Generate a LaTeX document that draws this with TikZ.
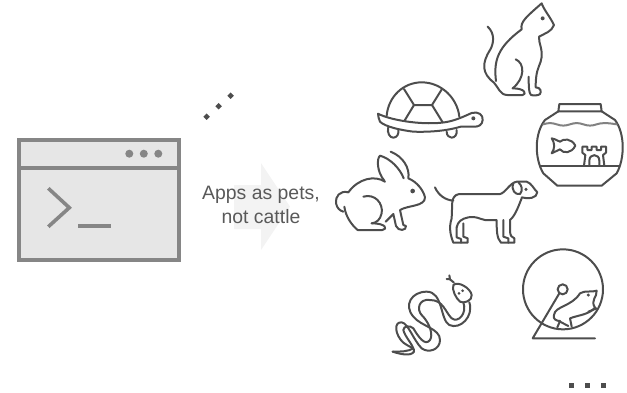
\documentclass[tikz,border=0pt]{standalone}
\usepackage{fontspec}
\setmainfont{Liberation Sans}
\usetikzlibrary{calc}
\definecolor{framegray}{HTML}{868686}
\definecolor{screengray}{HTML}{E6E6E6}
\definecolor{arrowgray}{HTML}{F3F3F3}
\definecolor{petgray}{HTML}{4D4D4D}
\definecolor{textgray}{HTML}{595959}

\begin{document}
\begin{tikzpicture}[
	x=1pt, y=-1pt,
	window/.style={rectangle, draw=framegray, fill=screengray, line width=4pt, inner sep=0pt},
	winline/.style={draw=framegray, line width=3.6pt},
	windot/.style={circle, fill=framegray, minimum size=8pt, inner sep=0pt},
	pet/.style={draw=petgray, line width=2pt, line cap=round, line join=round},
	petdot/.style={fill=petgray},
	crop/.style={x=0.33333pt, y=-0.33333pt},
	moredot/.style={fill=petgray},
]
	\useasboundingbox (0, 0) rectangle (627, 392);

	% Arrow behind the label
	\fill[arrowgray] (234, 185) -- (261, 185) -- (261, 163) -- (290, 206.5) -- (261, 250) -- (261, 229) -- (234, 229) -- cycle;
	\node[font=\fontsize{19.4}{24}\selectfont, text=textgray, align=center, inner sep=0pt] (label) at (261, 205) {Apps as pets,\\not cattle};

	% Terminal window
	\node[window, minimum width=159.4pt, minimum height=119.4pt] (terminal) at (99, 200) {};
	\coordinate (barleft) at (19.3, 168);
	\coordinate (barright) at (178.7, 168);
	\draw[winline] (barleft) -- (barright);
	\foreach \i/\px in {1/129.3, 2/143.8, 3/158.3} {
		\node[windot] (windot\i) at (\px, 153.7) {};
	}
	\draw[winline] (48.3, 188.3) -- (69.3, 207.7) -- (48.3, 226.7);
	\draw[winline] (78, 225.7) -- (111, 225.7);

	% Dots towards the top, dots at the bottom
	\foreach \px/\py in {206.7/116.7, 218.7/106.2, 230.7/95.7} {
		\fill[moredot, rotate around={45:(\px, \py)}] (\px - 2.3, \py - 2.3) rectangle (\px + 2.3, \py + 2.3);
	}
	\foreach \px in {571.3, 587.3, 603.3} {
		\fill[moredot] (\px - 2.5, 383.2) rectangle (\px + 2.5, 388.2);
	}

	% Turtle
	\begin{scope}[shift={(370, 75)}, crop]
		\draw[pet] (50, 122) .. controls (55, 65) and (100, 22) .. (155, 22) .. controls (215, 22) and (262, 70) .. (268, 125);
		\draw[pet] (102, 42) -- (132, 90) -- (186, 90) -- (216, 42);
		\draw[pet] (132, 90) -- (103, 138);
		\draw[pet] (186, 90) -- (218, 142);
		\draw[pet] (24, 116) .. controls (60, 135) and (150, 150) .. (215, 143) .. controls (250, 140) and (280, 125) .. (305, 114)
			.. controls (325, 108) and (340, 120) .. (338, 135) .. controls (337, 150) and (325, 155) .. (315, 155)
			-- (272, 155) .. controls (240, 165) and (190, 172) .. (130, 170) .. controls (90, 165) and (45, 155) .. (30, 140) .. controls (26, 132) and (25, 125) .. (24, 116);
		\draw[pet] (55, 155) .. controls (50, 175) and (60, 188) .. (70, 188) .. controls (82, 188) and (87, 175) .. (85, 165);
		\draw[pet] (230, 170) .. controls (230, 182) and (238, 188) .. (245, 188) .. controls (255, 188) and (262, 178) .. (260, 165);
		\fill[petdot] (310, 130) circle (6);
	\end{scope}

	% Cat
	\begin{scope}[shift={(470, 0)}, crop]
		\draw[pet] (53, 80) .. controls (75, 100) and (72, 130) .. (60, 150) .. controls (35, 190) and (35, 220) .. (72, 248)
			.. controls (85, 262) and (90, 285) .. (112, 285) -- (158, 285) .. controls (170, 283) and (167, 265) .. (128, 265);
		\draw[pet] (78, 243) .. controls (70, 180) and (85, 140) .. (155, 88) .. controls (150, 65) and (170, 50) .. (215, 10)
			.. controls (222, 30) and (240, 50) .. (252, 75) .. controls (245, 95) and (225, 100) .. (207, 110)
			.. controls (205, 130) and (222, 150) .. (212, 185) .. controls (205, 205) and (197, 215) .. (197, 262)
			.. controls (212, 262) and (215, 275) .. (210, 282) .. controls (205, 287) and (190, 287) .. (183, 285) .. controls (176, 280) and (176, 250) .. (176, 230);
		\draw[pet] (137, 178) .. controls (165, 190) and (165, 235) .. (128, 265);
		\fill[petdot] (218, 55) circle (6);
	\end{scope}

	% Fish bowl
	\begin{scope}[shift={(500, 90)}, crop]
		\draw[pet] (175, 64) -- (178, 42) -- (302, 42) -- (305, 64) -- cycle;
		\draw[pet] (175, 64) -- (135, 90) .. controls (103, 130) and (103, 205) .. (130, 250) -- (172, 287) -- (305, 287) -- (350, 250)
			.. controls (375, 205) and (375, 130) .. (345, 90) -- (305, 64);
		\draw[pet, petgray!70] (130, 103) .. controls (145, 98) and (155, 98) .. (170, 103) .. controls (185, 108) and (195, 108) .. (210, 103)
			.. controls (225, 98) and (235, 98) .. (250, 103) .. controls (265, 108) and (275, 108) .. (290, 103) .. controls (305, 98) and (320, 98) .. (350, 103);
		\draw[pet] (122, 227) -- (357, 227);
		\draw[pet] (155, 145) .. controls (170, 148) and (175, 155) .. (180, 155) .. controls (190, 145) and (215, 145) .. (226, 167)
			.. controls (215, 190) and (190, 192) .. (180, 178) .. controls (172, 180) and (165, 187) .. (155, 190) .. controls (165, 175) and (165, 160) .. (155, 145) -- cycle;
		\draw[pet] (252, 227) -- (256, 195) -- (247, 188) -- (247, 170) -- (262, 170) -- (262, 180) -- (275, 180) -- (275, 170) -- (290, 170)
			-- (290, 180) -- (303, 180) -- (303, 170) -- (318, 170) -- (318, 188) -- (309, 195) -- (313, 227);
		\draw[pet] (268, 227) -- (268, 212) .. controls (268, 190) and (298, 190) .. (298, 212) -- (298, 227);
	\end{scope}

	% Rabbit and dog
	\begin{scope}[shift={(325, 140)}, crop]
		\draw[pet] (180, 125) .. controls (150, 105) and (100, 115) .. (70, 157) .. controls (45, 150) and (30, 170) .. (33, 190) .. controls (36, 205) and (45, 212) .. (55, 215);
		\draw[pet] (58, 200) .. controls (62, 230) and (80, 255) .. (98, 270) -- (172, 270) .. controls (188, 268) and (185, 250) .. (140, 250);
		\draw[pet] (115, 170) .. controls (150, 160) and (175, 190) .. (170, 220) .. controls (165, 240) and (155, 248) .. (140, 250);
		\draw[pet] (182, 245) -- (205, 222) -- (213, 258) .. controls (220, 275) and (245, 272) .. (243, 258) -- (235, 255) -- (225, 210)
			.. controls (250, 195) and (300, 200) .. (300, 172) .. controls (295, 150) and (275, 125) .. (250, 115) .. controls (255, 85) and (235, 50) .. (197, 35);
		\draw[pet] (178, 122) .. controls (155, 95) and (155, 55) .. (165, 47) .. controls (195, 55) and (225, 85) .. (236, 115);
		\fill[petdot] (263, 153) circle (7);

		\draw[pet] (330, 142) .. controls (340, 165) and (360, 180) .. (385, 182);
		\draw[pet] (382, 182) .. controls (388, 165) and (395, 162) .. (410, 162) -- (525, 162) .. controls (540, 160) and (555, 128) .. (575, 125) -- (605, 125)
			.. controls (620, 130) and (625, 145) .. (637, 157) .. controls (635, 175) and (610, 178) .. (590, 172);
		\draw[pet] (565, 130) .. controls (558, 150) and (570, 165) .. (585, 162) .. controls (595, 150) and (590, 135) .. (580, 127);
		\fill[petdot] (603, 148) circle (5);
		\draw[pet] (590, 175) .. controls (580, 200) and (570, 228) .. (555, 240) -- (555, 270) .. controls (555, 288) and (560, 292) .. (568, 295) -- (568, 308) -- (528, 308)
			.. controls (515, 295) and (515, 270) .. (515, 240) -- (480, 240) .. controls (460, 236) and (455, 228) .. (430, 232) .. controls (410, 236) and (398, 245) .. (395, 262);
		\draw[pet] (382, 182) -- (380, 235) .. controls (370, 265) and (378, 290) .. (385, 308) -- (428, 308) -- (428, 295) -- (415, 290) -- (415, 250);
		\draw[pet] (395, 262) -- (395, 292) -- (408, 297) -- (408, 308);
		\draw[pet] (535, 240) -- (535, 290) -- (550, 295) -- (550, 308);
	\end{scope}

	% Snake and hamster wheel
	\begin{scope}[shift={(380, 240)}, crop]
		\draw[pet] (220, 135) .. controls (235, 122) and (272, 145) .. (275, 165) .. controls (278, 182) and (250, 192) .. (240, 185) .. controls (228, 175) and (215, 150) .. (220, 135) -- cycle;
		\draw[pet] (222, 128) -- (210, 118) -- (200, 117);
		\draw[pet] (210, 118) -- (208, 106);
		\fill[petdot] (248, 152) circle (4.5);
		\fill[petdot] (237, 160) circle (4.5);
		\draw[pet] (268, 187) .. controls (282, 230) and (240, 270) .. (208, 255) .. controls (180, 240) and (190, 155) .. (140, 155)
			.. controls (95, 155) and (70, 195) .. (100, 230) .. controls (125, 260) and (180, 265) .. (180, 300) .. controls (180, 330) and (145, 340) .. (125, 325)
			.. controls (100, 300) and (85, 250) .. (65, 247) .. controls (40, 245) and (45, 285) .. (70, 308) .. controls (85, 320) and (108, 325) .. (102, 335) .. controls (92, 350) and (60, 342) .. (38, 335);
		\draw[pet] (250, 187) .. controls (262, 220) and (235, 250) .. (215, 235) .. controls (195, 215) and (190, 180) .. (150, 180)
			.. controls (115, 175) and (110, 210) .. (125, 225) .. controls (150, 250) and (160, 285) .. (150, 300) .. controls (135, 320) and (115, 290) .. (100, 265)
			.. controls (90, 255) and (70, 258) .. (70, 270) .. controls (75, 290) and (95, 310) .. (100, 325);
		\draw[pet] (38, 335) .. controls (60, 335) and (85, 335) .. (100, 325);

		\draw[pet] (549, 148) circle (120);
		\draw[pet] (548, 148) circle (15);
		\draw[pet] (538, 160) -- (458, 295) -- (645, 295);
		\draw[pet] (522, 225) .. controls (525, 198) and (575, 200) .. (600, 160) .. controls (615, 150) and (635, 158) .. (650, 152)
			.. controls (652, 172) and (630, 180) .. (645, 203) .. controls (625, 225) and (595, 225) .. (570, 235) -- (575, 260);
		\draw[pet] (522, 225) .. controls (518, 238) and (530, 243) .. (540, 243) -- (532, 262);
		\draw[pet] (540, 245) -- (565, 258);
		\draw[pet] (625, 215) -- (650, 205);
		\fill[petdot] (625, 165) circle (5);
	\end{scope}
\end{tikzpicture}
\end{document}
